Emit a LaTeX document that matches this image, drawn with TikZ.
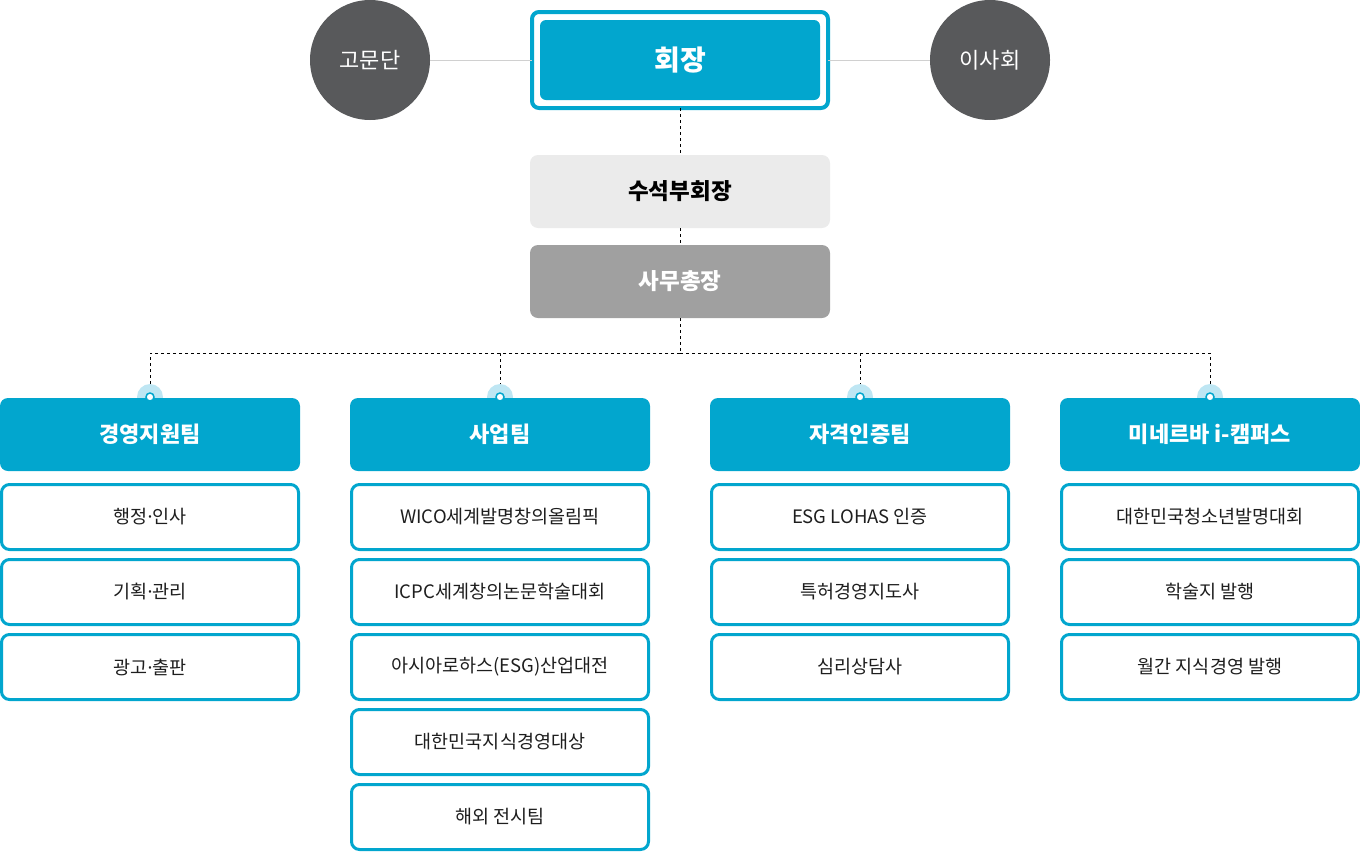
\documentclass[tikz,border=0pt]{standalone}
\usepackage{fontspec}
\setmainfont{Noto Sans CJK KR}
\newfontfamily\dotfont{Noto Sans}
\usetikzlibrary{positioning}
\pgfdeclarelayer{background}
\pgfsetlayers{background,main}
\definecolor{orgblue}{RGB}{2,166,206}
\definecolor{orghalo}{RGB}{190,230,243}
\definecolor{orgdark}{RGB}{88,89,91}
\definecolor{orglight}{RGB}{235,235,235}
\definecolor{orgmid}{RGB}{160,160,160}
\definecolor{orgline}{RGB}{208,208,208}
\definecolor{orgtext}{RGB}{30,30,30}
\newcommand{\mdot}{{\dotfont ·}}

\begin{document}
\begin{tikzpicture} [
                x=1pt, y=-1pt,
                every node/.style={inner sep=0pt, outer sep=0pt},
                council/.style={circle,fill=orgdark,minimum size=120pt,text=white,font=\fontsize{22}{26}\selectfont},
                chief frame/.style={rectangle,draw=orgblue,line width=4pt,rounded corners=7pt,minimum width=296pt,minimum height=96pt},
                chief/.style={rectangle,fill=orgblue,rounded corners=6pt,minimum width=280pt,minimum height=80pt,text=white,font=\bfseries\fontsize{28}{32}\selectfont},
                officer/.style={rectangle,rounded corners=8pt,minimum width=300pt,minimum height=73pt,font=\bfseries\fontsize{22.5}{26}\selectfont},
                team/.style={rectangle,fill=orgblue,rounded corners=8pt,minimum width=300pt,minimum height=73pt,text=white,font=\bfseries\fontsize{22}{26}\selectfont},
                item/.style={rectangle,draw=orgblue,line width=3pt,fill=white,rounded corners=8pt,minimum width=297pt,minimum height=65pt,outer sep=1.5pt,text=orgtext,font=\fontsize{18.5}{22}\selectfont},
                halo/.style={circle,fill=orghalo,minimum size=26pt},
                pin/.style={circle,draw=orgblue,line width=1.5pt,fill=white,minimum size=8pt},
                link/.style={draw,line width=1pt,dash pattern=on 3pt off 3pt},
                side link/.style={draw=orgline,line width=1pt}
            ]
            \useasboundingbox (0,0) rectangle (1360,852);
            % top of the chart
            \node[council] (advisors) at (370,60) {고문단};
            \node[council] (board) at (990,60) {이사회};
            \node[chief frame] (chief frame) at (680,60) {};
            \node[chief] (chief) at (680,60) {회장};
            \node[officer,fill=orglight,text=black] (vice) at (680,191.5) {수석부회장};
            \node[officer,fill=orgmid,text=white] (gensec) at (680,281.5) {사무총장};
            \path[side link] (advisors) -- (chief frame);
            \path[side link] (chief frame) -- (board);
            % teams
            \foreach \x/\name/\title in {
                150/t1/경영지원팀, 500/t2/사업팀, 860/t3/자격인증팀, 1210/t4/미네르바 i-캠퍼스} {
                \begin{pgfonlayer}{background}
                    \node[halo] (\name-halo) at (\x,397) {};
                \end{pgfonlayer}
                \node[team] (\name-0) at (\x,434.5) {\title};
                \node[pin] (\name-pin) at (\x,397) {};
            }
            % work items under each team
            \foreach \team/\k/\text [evaluate=\k as \prev using int(\k-1)] in {
                t1/1/행정\mdot 인사, t1/2/기획\mdot 관리, t1/3/광고\mdot 출판,
                t2/1/WICO세계발명창의올림픽, t2/2/ICPC세계창의논문학술대회,
                t2/3/아시아로하스(ESG)산업대전, t2/4/대한민국지식경영대상, t2/5/해외 전시팀,
                t3/1/ESG LOHAS 인증, t3/2/특허경영지도사, t3/3/심리상담사,
                t4/1/대한민국청소년발명대회, t4/2/학술지 발행, t4/3/월간 지식경영 발행} {
                \ifnum\k=1
                    \node[item, below=12pt of \team-0] (\team-\k) {\text};
                \else
                    \node[item, below=7pt of \team-\prev] (\team-\k) {\text};
                \fi
            }
            % dashed reporting lines
            \coordinate (bus) at (680,353);
            \path[link] (chief frame.south) -- (vice.north);
            \path[link] (vice.south) -- (gensec.north);
            \path[link] (gensec.south) -- (bus);
            \foreach \name in {t1,t2,t3,t4}
                \path[link] (bus) -| (\name-halo.north);
\end{tikzpicture}
\end{document}
